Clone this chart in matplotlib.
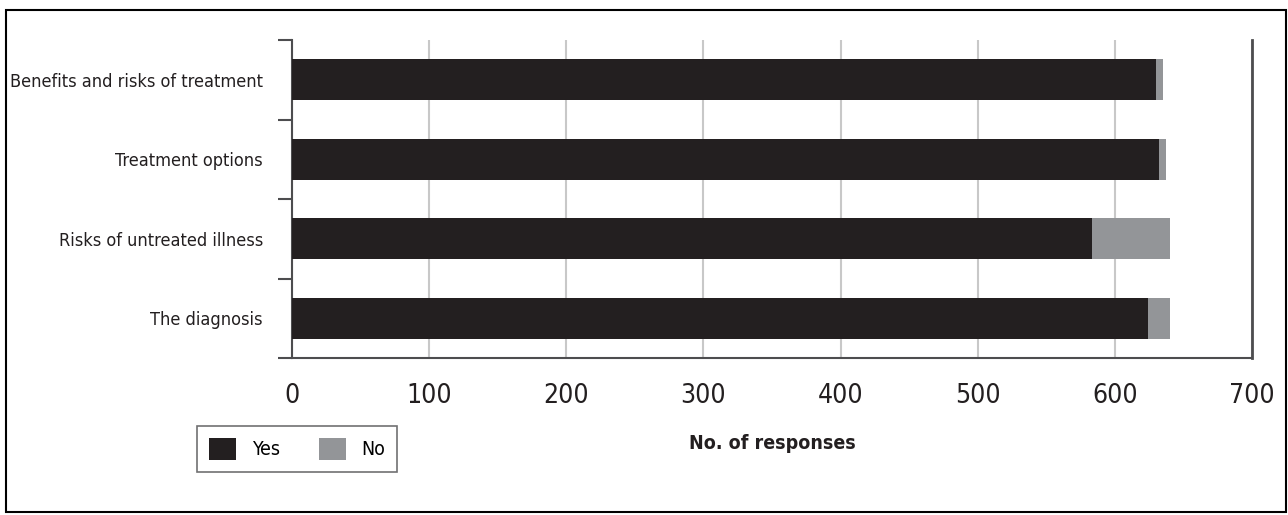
import matplotlib.pyplot as plt
from matplotlib.patches import Rectangle

categories = ["The diagnosis", "Risks of untreated illness", "Treatment options", "Benefits and risks of treatment"]
yes_values = [624, 583, 632, 630]
no_values = [16, 57, 5, 5]
x_ticks = [0, 100, 200, 300, 400, 500, 600, 700]

plt.rcParams['font.family'] = ['DejaVu Sans']
plt.rcParams['font.stretch'] = 'condensed'

fig = plt.figure(figsize=(12.88, 5.15), dpi=100)
ax = fig.add_axes([292 / 1288, 1 - 358 / 515, (1252 - 292) / 1288, (358 - 40) / 515])

y = list(range(len(categories)))
ax.barh(y, yes_values, height=0.51, color="#231f20", label="Yes", zorder=3)
ax.barh(y, no_values, left=yes_values, height=0.51, color="#939598", label="No", zorder=3)

ax.set_xlim(0, 700)
ax.set_ylim(-0.5, len(categories) - 0.5)
ax.set_xticks(x_ticks)
ax.set_xticklabels([str(t) for t in x_ticks], fontsize=19, color="#231f20")
ax.tick_params(axis="x", length=0, pad=18)

# labels sit between the tick marks, ticks mark the category boundaries
ax.set_yticks(y)
ax.set_yticklabels(categories, fontsize=13, color="#231f20")
ax.set_yticks([i - 0.5 for i in range(len(categories) + 1)], minor=True)
ax.tick_params(axis="y", which="major", length=0, pad=21)
ax.tick_params(axis="y", which="minor", length=10, width=1.5, color="#4d4d4f")

ax.grid(axis="x", color="#c8c8c8", linewidth=1.5, zorder=0)
ax.spines["top"].set_visible(False)
ax.spines["left"].set_color("#4d4d4f")
ax.spines["left"].set_linewidth(1.5)
ax.spines["bottom"].set_color("#4d4d4f")
ax.spines["bottom"].set_linewidth(1.5)
ax.spines["right"].set_color("#4d4d4f")
ax.spines["right"].set_linewidth(2)

ax.set_xlabel("No. of responses", fontsize=14, fontweight="bold", color="#231f20", labelpad=18)

leg = fig.legend(loc="center", bbox_to_anchor=(297 / 1288, 1 - 449 / 515), ncol=2,
                 fontsize=14, frameon=True, fancybox=False, edgecolor="#4d4d4f",
                 handlelength=1.4, handleheight=1.4, columnspacing=2.0, borderpad=0.6)
leg.get_frame().set_linewidth(1.2)

# outer frame around the whole chart
fig.patches.append(Rectangle((6 / 1288, 3 / 515), 1280 / 1288, 502 / 515, transform=fig.transFigure,
                             fill=False, edgecolor="black", linewidth=1.5))

fig.savefig("out.png", dpi=100)
